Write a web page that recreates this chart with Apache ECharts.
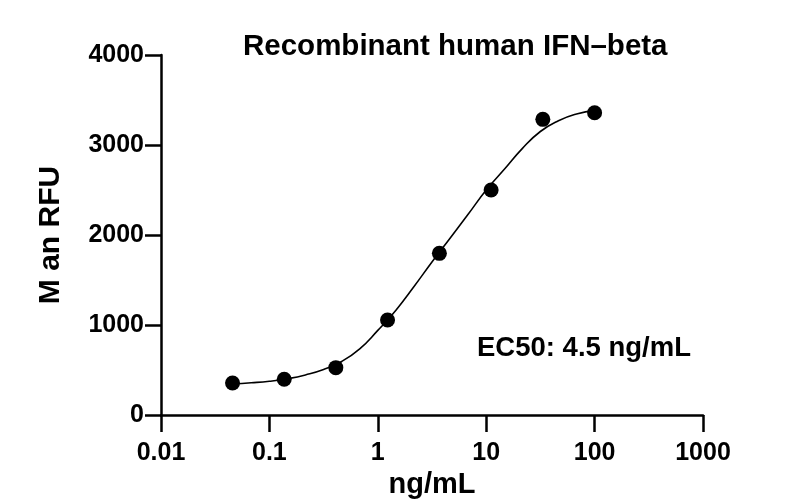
<!DOCTYPE html>
<html>
<head>
<meta charset="utf-8">
<script src="https://cdn.jsdelivr.net/npm/echarts@6/dist/echarts.min.js"></script>
<style>html,body{margin:0;padding:0;background:#fff}#c{width:811px;height:501px}</style>
</head>
<body>
<div id="c"></div>
<script>
// Measured data points (ng/mL, Mean RFU)
var doseValues = [0.0457, 0.137, 0.41, 1.23, 3.7, 11.1, 33.3, 100];
var meanRfu = [355, 397, 526, 1056, 1796, 2500, 3285, 3359];
// Fitted curve
var curveDose = [0.0457, 0.068, 0.1, 0.147, 0.215, 0.316, 0.464, 0.681, 1.0, 1.47, 2.15, 3.16, 4.64, 6.81, 10, 14.7, 21.5, 31.6, 46.4, 68.1, 100];
var curveRfu = [345, 358, 375, 403, 445, 505, 595, 735, 940, 1165, 1425, 1700, 1965, 2230, 2500, 2730, 2960, 3150, 3270, 3345, 3385];
var xTicks = [0.01, 0.1, 1, 10, 100, 1000];
var yTicks = [0, 1000, 2000, 3000, 4000];
var titleText = 'Recombinant human IFN\u2013beta';
var ec50Text = 'EC50: 4.5 ng/mL';

var FONT = '"Liberation Sans", Arial, Helvetica, sans-serif';
var chart = echarts.init(document.getElementById('c'), null, {renderer: 'canvas'});
var pts = doseValues.map(function (d, i) { return [d, meanRfu[i]]; });
var curve = curveDose.map(function (d, i) { return [d, curveRfu[i]]; });

chart.setOption({
  animation: false,
  backgroundColor: '#fff',
  grid: {left: 161, right: 108, top: 55, bottom: 86, containLabel: false, outerBoundsMode: 'none'},
  xAxis: {
    type: 'log', logBase: 10,
    min: xTicks[0], max: xTicks[xTicks.length - 1],
    name: 'ng/mL', nameLocation: 'middle', nameGap: 46,
    nameTextStyle: {color: '#000', fontFamily: FONT, fontWeight: 'bold', fontSize: 29},
    axisLine: {show: true, lineStyle: {color: '#000', width: 2.5}},
    axisTick: {show: true, length: 17, lineStyle: {color: '#000', width: 2.5}},
    minorTick: {show: false},
    splitLine: {show: false},
    axisLabel: {
      color: '#000', fontFamily: FONT, fontWeight: 'bold', fontSize: 25, margin: 26,
      formatter: function (v) { return String(Number(Number(v).toPrecision(6))); }
    }
  },
  yAxis: {
    type: 'value', min: yTicks[0], max: yTicks[yTicks.length - 1], interval: 1000,
    name: 'M an RFU', nameLocation: 'middle', nameGap: 95,
    nameTextStyle: {color: '#000', fontFamily: FONT, fontWeight: 'bold', fontSize: 30},
    axisLine: {show: true, lineStyle: {color: '#000', width: 2.5}},
    axisTick: {show: true, length: 16, lineStyle: {color: '#000', width: 2.5}},
    splitLine: {show: false},
    axisLabel: {color: '#000', fontFamily: FONT, fontWeight: 'bold', fontSize: 25, margin: 17,
      formatter: function (v) { return String(v); }}
  },
  graphic: [
    {type: 'text', left: 243, top: 32, style: {text: titleText, fill: '#000', font: 'bold 29.5px ' + FONT}},
    {type: 'text', left: 477, top: 334, style: {text: ec50Text, fill: '#000', font: 'bold 27.5px ' + FONT}}
  ],
  series: [
    {type: 'line', data: curve, smooth: 0.5, showSymbol: false, symbol: 'none',
     lineStyle: {color: '#000', width: 1.6}, silent: true, z: 2},
    {type: 'scatter', data: pts, symbol: 'circle', symbolSize: 15,
     itemStyle: {color: '#000', opacity: 1}, z: 3}
  ]
});
</script>
</body>
</html>
